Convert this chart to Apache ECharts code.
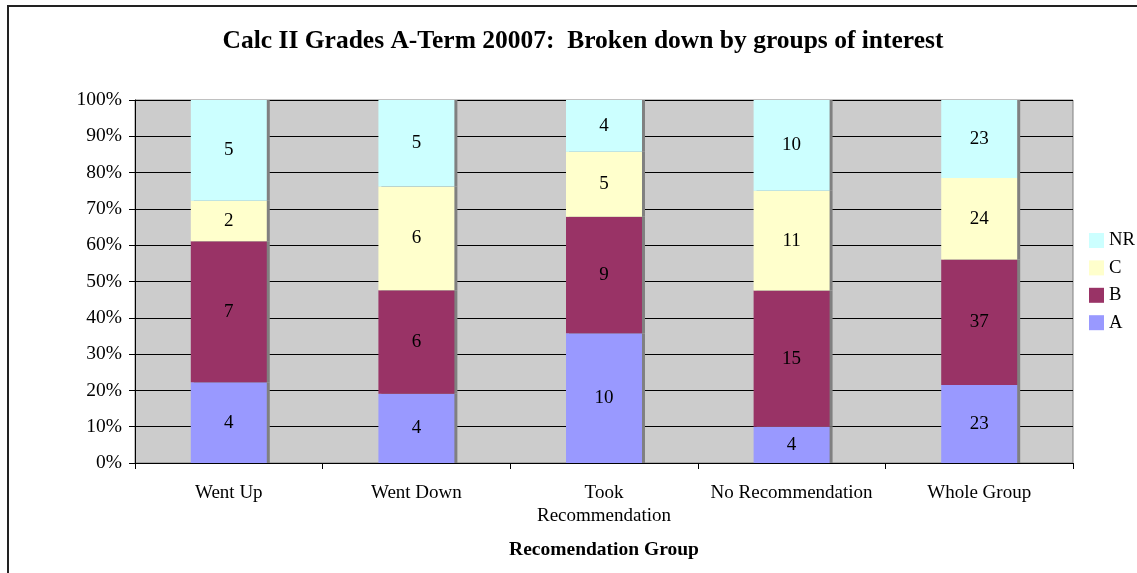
<!DOCTYPE html>
<html>
<head>
<meta charset="utf-8">
<script src="https://cdn.jsdelivr.net/npm/echarts@6/dist/echarts.min.js"></script>
<style>
  html, body { margin: 0; padding: 0; background: #fff; }
  #main { width: 1137px; height: 573px; }
</style>
</head>
<body>
<div id="main"></div>
<script>
// data: counts per grade for each group
var groups = ['Went Up', 'Went Down', 'Took\nRecommendation', 'No Recommendation', 'Whole Group'];
var gradeA  = [4, 4, 10, 4, 23];
var gradeB  = [7, 6, 9, 15, 37];
var gradeC  = [2, 6, 5, 11, 24];
var gradeNR = [5, 5, 4, 10, 23];
var yTicks  = [0, 10, 20, 30, 40, 50, 60, 70, 80, 90, 100];

var totals = groups.map(function (g, i) {
  return gradeA[i] + gradeB[i] + gradeC[i] + gradeNR[i];
});

// turn counts into percent of the group, keep the count for the label
function pct(arr) {
  return arr.map(function (v, i) {
    return { value: v / totals[i] * 100, count: v };
  });
}

var font = '"Liberation Serif", "Times New Roman", serif';

function mk(name, arr, color) {
  return {
    name: name,
    type: 'bar',
    stack: 'all',
    barWidth: '40.5%',
    data: pct(arr),
    itemStyle: {
      color: color,
      shadowColor: '#808080',
      shadowOffsetX: 3,
      shadowOffsetY: 0,
      shadowBlur: 0
    },
    label: {
      show: true,
      position: 'inside',
      color: '#000',
      fontFamily: font,
      fontSize: 19,
      formatter: function (p) { return p.data.count; }
    },
    emphasis: { disabled: true }
  };
}

var chart = echarts.init(document.getElementById('main'));
chart.setOption({
  animation: false,
  backgroundColor: '#fff',
  textStyle: { fontFamily: font },
  title: {
    text: 'Calc II Grades A-Term 20007:  Broken down by groups of interest',
    left: 578,
    textAlign: 'center',
    top: 23,
    textStyle: { fontFamily: font, fontSize: 25.5, fontWeight: 'bold', color: '#000' }
  },
  legend: {
    orient: 'vertical',
    left: 1089,
    top: 231,
    padding: 0,
    itemWidth: 15,
    itemHeight: 15,
    itemGap: 8.4,
    icon: 'rect',
    data: ['NR', 'C', 'B', 'A'],
    textStyle: { fontFamily: font, fontSize: 18.7, color: '#000' }
  },
  graphic: [{
    type: 'rect',
    shape: { x: 8, y: 6, width: 1300, height: 700 },
    style: { fill: 'none', stroke: '#222', lineWidth: 2 },
    silent: true
  }],
  grid: {
    left: 135, right: 64, top: 100, bottom: 110,
    show: true,
    backgroundColor: '#cccccc',
    borderColor: '#808080',
    borderWidth: 1
  },
  xAxis: {
    type: 'category',
    data: groups,
    name: 'Recomendation Group',
    nameLocation: 'middle',
    nameGap: 77,
    nameTextStyle: { fontFamily: font, fontSize: 19.5, fontWeight: 'bold', color: '#000' },
    axisLine: { lineStyle: { color: '#000' } },
    axisTick: { show: true, length: 6, lineStyle: { color: '#000' } },
    axisLabel: {
      interval: 0, hideOverlap: false,
      fontFamily: font, fontSize: 19, color: '#000', margin: 19, lineHeight: 23
    }
  },
  yAxis: {
    type: 'value',
    min: yTicks[0],
    max: yTicks[yTicks.length - 1],
    interval: 10,
    axisLine: { show: true, lineStyle: { color: '#000' } },
    axisTick: { show: true, length: 6, lineStyle: { color: '#000' } },
    axisLabel: {
      fontFamily: font, fontSize: 19.5, color: '#000', margin: 13,
      formatter: '{value}%'
    },
    splitLine: { show: true, lineStyle: { color: '#000', width: 1 } }
  },
  series: [
    mk('A', gradeA, '#9999ff'),
    mk('B', gradeB, '#993366'),
    mk('C', gradeC, '#ffffcc'),
    mk('NR', gradeNR, '#ccffff')
  ]
});
</script>
</body>
</html>
